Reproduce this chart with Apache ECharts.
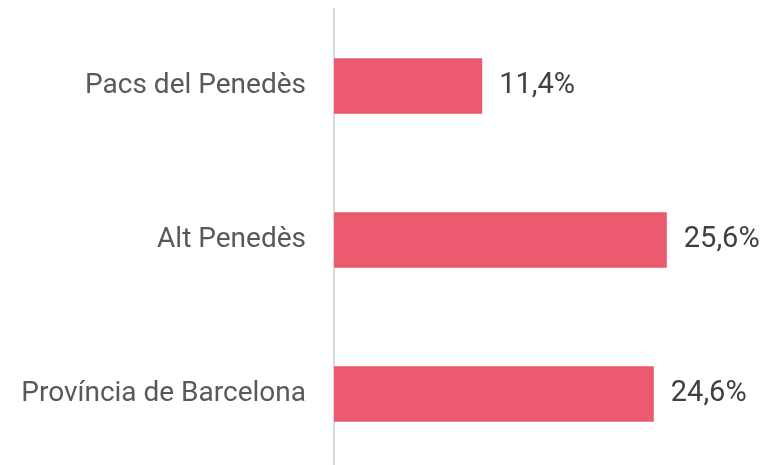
<!DOCTYPE html>
<html>
<head>
<meta charset="utf-8">
<script src="https://cdn.jsdelivr.net/npm/echarts@6/dist/echarts.min.js"></script>
<style>
  html, body { margin: 0; padding: 0; background: #fff; }
  #chart { width: 769px; height: 465px; }
</style>
</head>
<body>
<div id="chart"></div>
<script>
const categories = ['Província de Barcelona', 'Alt Penedès', 'Pacs del Penedès']
const values = [24.6, 25.6, 11.4]

const chart = echarts.init(document.getElementById('chart'))

chart.setOption({
  animation: false,
  grid: { left: 334, top: 9, width: 390, bottom: -6, outerBoundsMode: 'none' },
  xAxis: {
    type: 'value',
    min: 0,
    max: 30,
    show: false,
  },
  yAxis: {
    type: 'category',
    data: categories,
    axisLine: { show: true, lineStyle: { color: '#d9d9d9', width: 2 } },
    axisTick: { show: false },
    axisLabel: {
      color: '#595959',
      fontSize: 28,
      fontFamily: 'Roboto',
      margin: 28,
    },
  },
  series: [
    {
      type: 'bar',
      data: values,
      barWidth: '36%',
      itemStyle: { color: '#EB5A6E' },
      label: {
        show: true,
        position: 'right',
        distance: 17,
        color: '#404040',
        fontSize: 29,
        fontFamily: 'Roboto',
        formatter: (p) => p.value.toFixed(1).replace('.', ',') + '%',
      },
    },
  ],
})
</script>
</body>
</html>
